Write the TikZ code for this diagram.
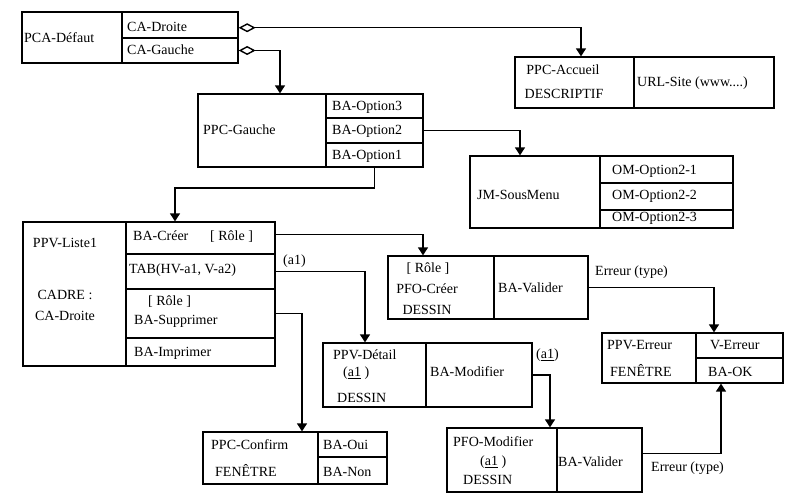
\documentclass[tikz,border=0pt]{standalone}
\usepackage{fontspec}
\setmainfont{Liberation Serif}
\usetikzlibrary{arrows.meta,fit,calc}
\tikzset{
    cell/.style = {draw, rectangle, inner sep=0pt, line width=1.3pt},
    txt/.style = {anchor=west, inner sep=0pt, font=\fontsize{14}{16}\selectfont},
    ctxt/.style = {txt, anchor=center},
    arrow/.style = {draw, line width=1.4pt, -{Triangle[width=10pt,length=8pt]}},
    aggr/.style = {draw, line width=1.4pt, {Diamond[open,width=9pt,length=17pt]}-{Triangle[width=10pt,length=8pt]}}
}

\begin{document}
\begin{tikzpicture}[x=1pt, y=-1pt]
        \useasboundingbox (0,0) rectangle (795,495);
        % PCA-Defaut
        \node [cell, fit={(22,12) (122,63)}] (pca) {};
        \node [cell, fit={(122,12) (238,38)}] (cadroite) {};
        \node [cell, fit={(122,38) (238,63)}] (cagauche) {};
        \node [txt] (tpca) at (24,38) {PCA-Défaut};
        \node [txt] (tcadroite) at (127,27) {CA-Droite};
        \node [txt] (tcagauche) at (127,50) {CA-Gauche};
        % PPC-Accueil
        \node [cell, fit={(515,57) (634,108)}] (accueil) {};
        \node [cell, fit={(634,57) (774,108)}] (urlsite) {};
        \node [ctxt] (taccueil) at (563,70) {PPC-Accueil};
        \node [ctxt] (tdescr) at (564,94) {DESCRIPTIF};
        \node [txt] (turl) at (637,83) {URL-Site (www....)};
        % PPC-Gauche
        \node [cell, fit={(198,94) (326,167)}] (gauche) {};
        \node [cell, fit={(326,94) (423,118)}] (opt3) {};
        \node [cell, fit={(326,118) (423,143)}] (opt2) {};
        \node [cell, fit={(326,143) (423,167)}] (opt1) {};
        \node [txt] (tgauche) at (203,130) {PPC-Gauche};
        \node [txt] (topt3) at (332,107) {BA-Option3};
        \node [txt] (topt2) at (332,131) {BA-Option2};
        \node [txt] (topt1) at (332,156) {BA-Option1};
        % JM-SousMenu
        \node [cell, fit={(470,156) (600,228)}] (sousmenu) {};
        \node [cell, fit={(600,156) (733,183)}] (om1) {};
        \node [cell, fit={(600,183) (733,210)}] (om2) {};
        \node [cell, fit={(600,210) (733,228)}] (om3) {};
        \node [txt] (tsousmenu) at (477,195) {JM-SousMenu};
        \node [txt] (tom1) at (612,171) {OM-Option2-1};
        \node [txt] (tom2) at (612,196) {OM-Option2-2};
        \node [txt] (tom3) at (612,218) {OM-Option2-3};
        % PPV-Liste1
        \node [cell, fit={(23,222) (126,366)}] (liste) {};
        \node [cell, fit={(126,222) (275,254)}] (creer) {};
        \node [cell, fit={(126,254) (275,289)}] (tab) {};
        \node [cell, fit={(126,289) (275,338)}] (suppr) {};
        \node [cell, fit={(126,338) (275,366)}] (impr) {};
        \node [ctxt] (tliste) at (65,243) {PPV-Liste1};
        \node [ctxt] (tcadre) at (65,295) {CADRE :};
        \node [ctxt] (tcadrd) at (65,316) {CA-Droite};
        \node [txt] (tcreer) at (133,236) {BA-Créer};
        \node [txt] (trole1) at (210,237) {[ Rôle ]};
        \node [txt] (ttab) at (129,270) {TAB(HV-a1, V-a2)};
        \node [txt] (trole2) at (148,302) {[ Rôle ]};
        \node [txt] (tsuppr) at (134,321) {BA-Supprimer};
        \node [txt] (timpr) at (134,353) {BA-Imprimer};
        % PFO-Creer
        \node [cell, fit={(388,256) (494,319)}] (pfocreer) {};
        \node [cell, fit={(494,256) (588,319)}] (valcreer) {};
        \node [ctxt] (trole3) at (428,269) {[ Rôle ]};
        \node [ctxt] (tpfocreer) at (427,289) {PFO-Créer};
        \node [ctxt] (tdessin1) at (427,310) {DESSIN};
        \node [txt] (tvalcreer) at (498,288) {BA-Valider};
        % PPV-Detail
        \node [cell, fit={(323,343) (426,407)}] (detail) {};
        \node [cell, fit={(426,343) (532,407)}] (modifier) {};
        \node [txt] (tdetail) at (333,355) {PPV-Détail};
        \node [txt] (ta1det) at (343,373) {(\underline{a1}\ )};
        \node [txt] (tdessin2) at (337,398) {DESSIN};
        \node [txt] (tmodifier) at (430,372) {BA-Modifier};
        % PPV-Erreur
        \node [cell, fit={(602,333) (696,383)}] (erreur) {};
        \node [cell, fit={(696,333) (783,358)}] (verreur) {};
        \node [cell, fit={(696,358) (783,383)}] (baok) {};
        \node [txt] (terreur) at (607,345) {PPV-Erreur};
        \node [txt] (tfen1) at (610,370) {FENÊTRE};
        \node [txt] (tverreur) at (710,345) {V-Erreur};
        \node [txt] (tbaok) at (708,372) {BA-OK};
        % PPC-Confirm
        \node [cell, fit={(203,432) (318,484)}] (confirm) {};
        \node [cell, fit={(318,432) (387,457)}] (oui) {};
        \node [cell, fit={(318,457) (387,484)}] (non) {};
        \node [txt] (tconfirm) at (211,445) {PPC-Confirm};
        \node [txt] (tfen2) at (215,470) {FENÊTRE};
        \node [txt] (toui) at (323,445) {BA-Oui};
        \node [txt] (tnon) at (323,472) {BA-Non};
        % PFO-Modifier
        \node [cell, fit={(447,428) (557,492)}] (pfomod) {};
        \node [cell, fit={(557,428) (642,492)}] (valmod) {};
        \node [txt] (tpfomod) at (453,442) {PFO-Modifier};
        \node [txt] (ta1mod) at (480,462) {(\underline{a1}\ )};
        \node [txt] (tdessin3) at (463,480) {DESSIN};
        \node [txt] (tvalmod) at (558,462) {BA-Valider};
        % connectors
        \coordinate (c1) at (581,0);
        \coordinate (c2) at (280,0);
        \coordinate (c3) at (520,0);
        \coordinate (c4) at (175,188);
        \coordinate (c5) at (423,0);
        \coordinate (c6) at (365,0);
        \coordinate (c7) at (302,0);
        \coordinate (c8) at (714,0);
        \coordinate (c9) at (550,0);
        \coordinate (c10) at (721,0);
        \draw [aggr] ($(cadroite.south east)!0.4!(cadroite.north east)$) -| (c1 |- accueil.north);
        \draw [aggr] (cagauche.east) -| (c2 |- gauche.north);
        \draw [arrow] (opt2.east) -| (c3 |- sousmenu.north);
        \draw [arrow] (opt1.south) |- (c4) -- (c4 |- creer.north);
        \draw [arrow] ($(creer.north east)!0.8!(creer.east)$) -| (c5 |- pfocreer.north);
        \draw [arrow] (tab.east) -| (c6 |- detail.north);
        \draw [arrow] (suppr.east) -| (c7 |- confirm.north);
        \draw [arrow] (valcreer.east) -| (c8 |- verreur.north);
        \draw [arrow] (modifier.east) -| (c9 |- pfomod.north);
        \draw [arrow] ($(valmod.north east)!0.4!(valmod.south east)$) -| (c10 |- baok.south);
        \node [txt] (la1tab) at (283,261) {(a1)};
        \node [txt] (la1mod) at (536,355) {(\underline{a1})};
        \node [txt] (lerr1) at (595,272) {Erreur (type)};
        \node [txt] (lerr2) at (651,468) {Erreur (type)};
\end{tikzpicture}
\end{document}
